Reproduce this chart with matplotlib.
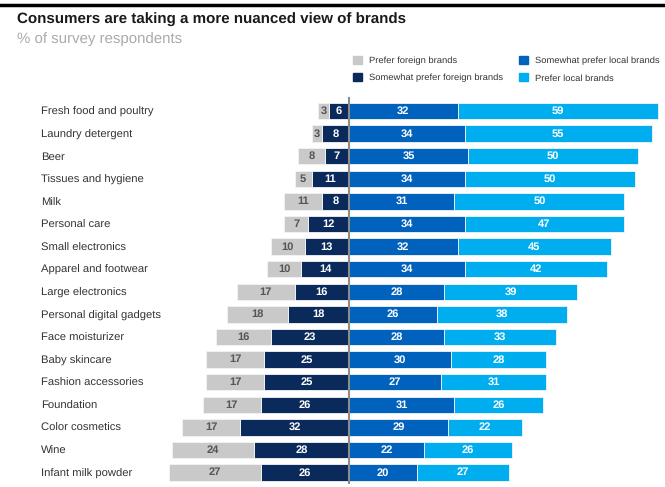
import matplotlib
matplotlib.use("Agg")
import matplotlib.pyplot as plt
from matplotlib.patches import Patch
from matplotlib.lines import Line2D
from matplotlib.transforms import blended_transform_factory

categories = ["Fresh food and poultry", "Laundry detergent", "Beer", "Tissues and hygiene",
              "Milk", "Personal care", "Small electronics", "Apparel and footwear",
              "Large electronics", "Personal digital gadgets", "Face moisturizer",
              "Baby skincare", "Fashion accessories", "Foundation", "Color cosmetics",
              "Wine", "Infant milk powder"]
prefer_foreign = [3, 3, 8, 5, 11, 7, 10, 10, 17, 18, 16, 17, 17, 17, 17, 24, 27]
somewhat_foreign = [6, 8, 7, 11, 8, 12, 13, 14, 16, 18, 23, 25, 25, 26, 32, 28, 26]
somewhat_local = [32, 34, 35, 34, 31, 34, 32, 34, 28, 26, 28, 30, 27, 31, 29, 22, 20]
prefer_local = [59, 55, 50, 50, 50, 47, 45, 42, 39, 38, 33, 28, 31, 26, 22, 26, 27]
series_names = ["Prefer foreign brands", "Somewhat prefer foreign brands",
                "Somewhat prefer local brands", "Prefer local brands"]

c_pf = "#c9c9c9"
c_sf = "#0a2a5c"
c_sl = "#0062bd"
c_pl = "#00aeef"

W, H = 665, 487
plt.rcParams['font.family'] = ['Liberation Sans', 'DejaVu Sans']
plt.rcParams['text.hinting'] = 'no_hinting'
fig = plt.figure(figsize=(W / 100, H / 100), dpi=100)

# axes in pixel coordinates
px_per_unit = 3.4
center_px = 349
ax_left, ax_right = 160, 663
ax_top, ax_bottom = 97, 484
row0, row_step = 111, 22.6
ax = fig.add_axes([ax_left / W, 1 - ax_bottom / H, (ax_right - ax_left) / W, (ax_bottom - ax_top) / H])
ax.set_xlim(-(center_px - ax_left) / px_per_unit, (ax_right - center_px) / px_per_unit)
ax.set_ylim((ax_bottom - row0) / row_step, (ax_top - row0) / row_step)
ax.axis("off")

y = list(range(len(categories)))
bh = 0.72
ec = dict(edgecolor="#f4f4f4", linewidth=0.6)
ax.barh(y, [-v for v in somewhat_foreign], height=bh, color=c_sf, **ec)
ax.barh(y, [-v for v in prefer_foreign], left=[-v for v in somewhat_foreign], height=bh, color=c_pf, **ec)
ax.barh(y, somewhat_local, height=bh, color=c_sl, **ec)
ax.barh(y, prefer_local, left=somewhat_local, height=bh, color=c_pl, **ec)

fs = 8
for i in y:
    sf, pf, sl, pl = somewhat_foreign[i], prefer_foreign[i], somewhat_local[i], prefer_local[i]
    ax.text(-sf / 2, i, str(sf), ha="center", va="center", color="white", fontsize=fs, fontweight="bold")
    ax.text(-sf - pf / 2, i, str(pf), ha="center", va="center", color="#555555", fontsize=fs, fontweight="bold")
    ax.text(sl / 2, i, str(sl), ha="center", va="center", color="white", fontsize=fs, fontweight="bold")
    ax.text(sl + pl / 2, i, str(pl), ha="center", va="center", color="white", fontsize=fs, fontweight="bold")

ax.axvline(0, color="#8c8c8c", linewidth=1.5, ymin=0, ymax=1)

tr = blended_transform_factory(fig.transFigure, ax.transData)
for i, cat in enumerate(categories):
    ax.text(41 / W, i, cat, transform=tr, ha="left", va="center_baseline", fontsize=8.1, color="#333333")

# title
fig.text(17 / W, 1 - 20 / H, "Consumers are taking a more nuanced view of brands",
         fontsize=10.9, fontweight="bold", color="#1a1a1a", va="center", ha="left")
fig.text(17 / W, 1 - 39.5 / H, "% of survey respondents",
         fontsize=10.8, color="#aaaaaa", va="center", ha="left")

fig.add_artist(Line2D([0, 1], [1 - 4.5 / H, 1 - 4.5 / H], transform=fig.transFigure, color="black", linewidth=2.5))

handles = [Patch(color=c) for c in [c_pf, c_sf, c_sl, c_pl]]
fig.legend(handles, series_names, ncol=2, loc="upper left", bbox_to_anchor=(345 / W, 1 - 48.5 / H),
           frameon=False, fontsize=6.75, handlelength=0.96, handleheight=0.96, handletextpad=0.75,
           columnspacing=1.7, labelspacing=0.85, labelcolor="#333333", borderpad=0.3)

fig.savefig("out.png", dpi=100)
